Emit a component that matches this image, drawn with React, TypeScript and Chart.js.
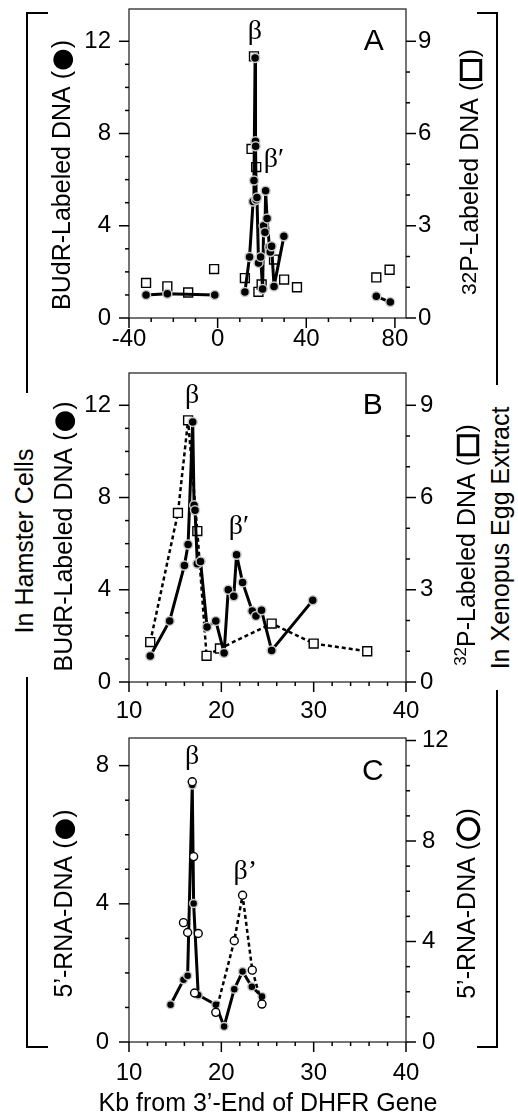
import { useEffect, useRef } from 'react';
import { Chart, registerables } from 'chart.js';

Chart.register(...registerables);

const SANS = '"Liberation Sans", Arial, Helvetica, sans-serif';
const SERIF = '"Liberation Serif", "Times New Roman", Times, serif';
const SYMBOL = '"DejaVu Sans", "Liberation Sans", sans-serif';

// ---------------- data (kb from 3'-end of DHFR gene) ----------------
// BUdR-labeled DNA in hamster cells (filled circles), beta / beta' region
const budrKb = [12.3, 14.4, 16.0, 16.4, 16.9, 17.05, 17.15, 17.4, 17.75, 18.45, 19.4, 20.3, 20.75, 21.35, 21.65, 22.3, 23.35, 23.75, 24.35, 25.45, 29.9];
const budrVal = [1.13, 2.65, 5.05, 5.96, 11.28, 7.66, 7.45, 5.13, 5.23, 2.39, 2.65, 1.26, 4.0, 3.72, 5.52, 4.32, 3.08, 2.86, 3.11, 1.37, 3.54];
// BUdR flanking fragments (panel A only)
const budrUpKb = [-32.3, -22.7, -1.3];
const budrUpVal = [1.0, 1.05, 1.0];
const budrDownKb = [71.6, 77.9];
const budrDownVal = [0.94, 0.69];
// 32P-labeled DNA in Xenopus egg extract (open squares)
const p32Kb = [12.3, 15.3, 16.4, 17.4, 18.4, 19.85, 25.45, 30.0, 35.8];
const p32Val = [1.3, 5.5, 8.51, 4.91, 0.85, 1.09, 1.9, 1.25, 1.0];
const p32FlankKb = [-32.3, -22.7, -13.3, -1.6, 71.6, 77.6];
const p32FlankVal = [1.14, 1.03, 0.83, 1.59, 1.32, 1.57];
// 5'-RNA-DNA (panel C)
const rnaFilledKb = [14.5, 15.9, 16.35, 16.85, 17.0, 17.5, 19.4, 20.3, 21.4, 22.3, 23.3, 24.4];
const rnaFilledVal = [1.08, 1.8, 1.92, 7.44, 4.01, 1.36, 1.08, 0.45, 1.53, 2.04, 1.6, 1.32];
const rnaOpenKb = [15.9, 16.35, 16.85, 17.0, 17.1, 17.5, 19.4, 21.4, 22.3, 23.35, 24.4];
const rnaOpenVal = [4.75, 4.36, 10.36, 7.38, 1.95, 4.32, 1.18, 4.03, 5.84, 2.86, 1.51];
const rnaOpenDashFrom = 19.4;

// ---------------- tick labels ----------------
const xTicksA = [-40, 0, 40, 80];
const xTicksBC = [10, 20, 30, 40];
const yTicksAB = [0, 4, 8, 12];
const y2TicksAB = [0, 3, 6, 9];
const yTicksC = [0, 4, 8];
const y2TicksC = [0, 4, 8, 12];

// ---------------- helpers ----------------
const pts = (xs: number[], ys: number[]) => xs.map((x, i) => ({ x, y: ys[i] }));

const filledLine = {
  borderColor: '#000',
  borderWidth: 3,
  borderJoinStyle: 'round',
  pointStyle: 'circle',
  pointRadius: 4.5,
  pointBackgroundColor: '#000',
  pointBorderColor: '#c8c8c8',
  pointBorderWidth: 1.5,
  tension: 0,
  yAxisID: 'y',
};
const squareLine = {
  borderColor: '#000',
  borderWidth: 2.5,
  borderDash: [4, 3],
  borderJoinStyle: 'round',
  pointStyle: 'rect',
  pointRadius: 6.3,
  pointBackgroundColor: '#fff',
  pointBorderColor: '#000',
  pointBorderWidth: 1.4,
  tension: 0,
  yAxisID: 'y2',
};

type Run = { t: string; size?: number; rise?: number; center?: boolean; family?: string; stroke?: number };
type TitleSpec = { runs: Run[]; x: number; y: number; rotate: boolean };
type LabelSpec = { text: string; x: number; y: number; font: string };
type TickSpec = { id: string; from: number; to: number; minor: number; major: number; dir: 'left' | 'right' | 'bottom' };

const framePlugin = {
  id: 'frameTicks',
  beforeDatasetsDraw(chart: any, _a: any, o: any) {
    const { ctx, chartArea: a } = chart;
    ctx.save();
    ctx.strokeStyle = '#2a2a2a';
    ctx.lineWidth = 1.3;
    ctx.strokeRect(a.left, a.top, a.right - a.left, a.bottom - a.top);
    ctx.strokeStyle = '#000';
    ctx.lineWidth = 1.5;
    for (const t of (o.ticks || []) as TickSpec[]) {
      const s = chart.scales[t.id];
      const n = Math.round((t.to - t.from) / t.minor);
      for (let i = 0; i <= n; i++) {
        const v = t.from + i * t.minor;
        const r = v / t.major;
        const len = Math.abs(r - Math.round(r)) < 1e-6 ? 10 : 4;
        const p = s.getPixelForValue(v);
        ctx.beginPath();
        if (t.dir === 'left') { ctx.moveTo(a.left, p); ctx.lineTo(a.left - len, p); }
        else if (t.dir === 'right') { ctx.moveTo(a.right, p); ctx.lineTo(a.right + len, p); }
        else { ctx.moveTo(p, a.bottom); ctx.lineTo(p, a.bottom + len); }
        ctx.stroke();
      }
    }
    ctx.restore();
  },
};

const TITLE_SIZE = 25;

const textPlugin = {
  id: 'panelText',
  afterDatasetsDraw(chart: any, _a: any, o: any) {
    const { ctx } = chart;
    ctx.save();
    ctx.fillStyle = '#000';
    ctx.textAlign = 'center';
    ctx.textBaseline = 'middle';
    for (const l of (o.labels || []) as LabelSpec[]) {
      ctx.font = l.font;
      const px = chart.scales.x.getPixelForValue(l.x);
      const py = chart.scales.y.getPixelForValue(l.y);
      ctx.fillText(l.text, px, py);
    }
    ctx.restore();
  },
  afterDraw(chart: any, _a: any, o: any) {
    const { ctx } = chart;
    const base = TITLE_SIZE;
    const fontOf = (r: Run) => `${r.size ?? base}px ${r.family ?? SANS}`;
    for (const tt of (o.titles || []) as TitleSpec[]) {
      ctx.save();
      ctx.fillStyle = '#000';
      ctx.strokeStyle = '#000';
      ctx.textAlign = 'left';
      ctx.textBaseline = 'alphabetic';
      const widths = tt.runs.map((r) => {
        ctx.font = fontOf(r);
        return ctx.measureText(r.t).width;
      });
      const total = widths.reduce((s, w) => s + w, 0);
      ctx.font = `${base}px ${SANS}`;
      const pm = ctx.measureText('(');
      const parenMid = (pm.actualBoundingBoxAscent - pm.actualBoundingBoxDescent) / 2;
      ctx.translate(tt.x, tt.y);
      if (tt.rotate) ctx.rotate(-Math.PI / 2);
      let cx = -total / 2;
      tt.runs.forEach((r, i) => {
        ctx.font = fontOf(r);
        let dy = -(r.rise ?? 0);
        if (r.center) {
          const m = ctx.measureText(r.t);
          const mid = (m.actualBoundingBoxAscent - m.actualBoundingBoxDescent) / 2;
          dy = mid - parenMid;
        }
        ctx.fillText(r.t, cx, dy);
        if (r.stroke) {
          ctx.lineWidth = r.stroke;
          ctx.strokeText(r.t, cx, dy);
        }
        cx += widths[i];
      });
      ctx.restore();
    }
  },
};

type PanelSpec = {
  canvasTop: number;
  height: number;
  areaTop: number;
  areaBottom: number;
  xMin: number;
  xMax: number;
  yMax: number;
  y2Max: number;
  xTicks: number[];
  yTicks: number[];
  y2Ticks: number[];
  padX: number;
  padY: number;
  padY2: number;
  tickMarks: TickSpec[];
  labels: LabelSpec[];
  titles: TitleSpec[];
  datasets: any[];
};

const AREA_LEFT = 129;
const AREA_RIGHT = 406;
const FIG_W = 518;
const TICK_FONT = { family: SANS, size: 24 };

function makeConfig(p: PanelSpec): any {
  const tickOpts = (pad: number) => ({ color: '#000', font: TICK_FONT, padding: pad, maxRotation: 0, autoSkip: false });
  return {
    type: 'line',
    data: { datasets: p.datasets },
    options: {
      animation: false,
      responsive: false,
      events: [],
      layout: { padding: { top: p.areaTop, left: 0, right: 0, bottom: 0 } },
      plugins: {
        legend: { display: false },
        tooltip: { enabled: false },
        frameTicks: { ticks: p.tickMarks },
        panelText: { labels: p.labels, titles: p.titles },
      },
      scales: {
        x: {
          type: 'linear',
          position: 'bottom',
          min: p.xMin,
          max: p.xMax,
          grid: { display: false, drawTicks: false },
          border: { display: false },
          ticks: { ...tickOpts(p.padX), includeBounds: false },
          afterBuildTicks: (s: any) => { s.ticks = p.xTicks.map((v) => ({ value: v })); },
          afterFit: (s: any) => { s.height = p.height - p.areaBottom; s.paddingLeft = 0; s.paddingRight = 0; },
        },
        y: {
          type: 'linear',
          position: 'left',
          min: 0,
          max: p.yMax,
          grid: { display: false, drawTicks: false },
          border: { display: false },
          ticks: { ...tickOpts(p.padY), includeBounds: false },
          afterBuildTicks: (s: any) => { s.ticks = p.yTicks.map((v) => ({ value: v })); },
          afterFit: (s: any) => { s.width = AREA_LEFT; s.paddingTop = 0; s.paddingBottom = 0; },
        },
        y2: {
          type: 'linear',
          position: 'right',
          min: 0,
          max: p.y2Max,
          grid: { display: false, drawTicks: false },
          border: { display: false },
          ticks: { ...tickOpts(p.padY2), includeBounds: false },
          afterBuildTicks: (s: any) => { s.ticks = p.y2Ticks.map((v) => ({ value: v })); },
          afterFit: (s: any) => { s.width = FIG_W - AREA_RIGHT; s.paddingTop = 0; s.paddingBottom = 0; },
        },
      },
    },
    plugins: [framePlugin, textPlugin],
  };
}

const BETA_FONT = `28px ${SERIF}`;
const LETTER_FONT = `30px ${SANS}`;

const dotSym: Run = { t: '\u25CF', size: 26, center: true, family: SYMBOL };
const squareSym: Run = { t: '\u25A1', size: 27, center: true, family: SYMBOL, stroke: 1.5 };
const ringSym: Run = { t: '\u25CB', size: 29, center: true, family: SYMBOL, stroke: 1.5 };

const panelA: PanelSpec = {
  canvasTop: 0,
  height: 360,
  areaTop: 9,
  areaBottom: 318,
  xMin: -40,
  xMax: 85,
  yMax: 13.4,
  y2Max: 10.05,
  xTicks: xTicksA,
  yTicks: yTicksAB,
  y2Ticks: y2TicksAB,
  padX: 7,
  padY: 18,
  padY2: 12,
  tickMarks: [
    { id: 'x', from: -40, to: 80, minor: 10, major: 40, dir: 'bottom' },
    { id: 'y', from: 0, to: 12, minor: 1, major: 4, dir: 'left' },
    { id: 'y2', from: 0, to: 9, minor: 1, major: 3, dir: 'right' },
  ],
  labels: [
    { text: '\u03B2', x: 16.8, y: 12.43, font: BETA_FONT },
    { text: '\u03B2\u2032', x: 25.4, y: 6.85, font: BETA_FONT },
    { text: 'A', x: 70.5, y: 12.0, font: LETTER_FONT },
  ],
  titles: [
    { runs: [{ t: 'BUdR-Labeled DNA (' }, dotSym, { t: ')' }], x: 70, y: 175, rotate: true },
    { runs: [{ t: '32', size: 21, rise: 2 }, { t: 'P-Labeled DNA (' }, squareSym, { t: ')' }], x: 478, y: 172, rotate: true },
  ],
  datasets: [
    { ...filledLine, data: pts(budrKb, budrVal) },
    { ...filledLine, data: pts(budrUpKb, budrUpVal) },
    { ...filledLine, data: pts(budrDownKb, budrDownVal) },
    { ...squareLine, showLine: false, data: pts(p32Kb, p32Val) },
    { ...squareLine, showLine: false, data: pts(p32FlankKb, p32FlankVal) },
  ],
};

const panelB: PanelSpec = {
  canvasTop: 360,
  height: 365,
  areaTop: 13,
  areaBottom: 322,
  xMin: 10,
  xMax: 40,
  yMax: 13.4,
  y2Max: 10.05,
  xTicks: xTicksBC,
  yTicks: yTicksAB,
  y2Ticks: y2TicksAB,
  padX: 15,
  padY: 18,
  padY2: 14,
  tickMarks: [
    { id: 'x', from: 10, to: 40, minor: 2, major: 10, dir: 'bottom' },
    { id: 'y', from: 0, to: 12, minor: 1, major: 4, dir: 'left' },
    { id: 'y2', from: 0, to: 9, minor: 1, major: 3, dir: 'right' },
  ],
  labels: [
    { text: '\u03B2', x: 16.83, y: 12.43, font: BETA_FONT },
    { text: '\u03B2\u2032', x: 21.9, y: 6.72, font: BETA_FONT },
    { text: 'B', x: 36.4, y: 12.0, font: LETTER_FONT },
  ],
  titles: [
    { runs: [{ t: 'BUdR-Labeled DNA (' }, dotSym, { t: ')' }], x: 72, y: 176.5, rotate: true },
    { runs: [{ t: '32', size: 17, rise: 9 }, { t: 'P-Labeled DNA (' }, squareSym, { t: ')' }], x: 475, y: 185, rotate: true },
  ],
  datasets: [
    { ...filledLine, data: pts(budrKb, budrVal) },
    { ...squareLine, data: pts(p32Kb, p32Val) },
  ],
};

const panelC: PanelSpec = {
  canvasTop: 725,
  height: 388,
  areaTop: 13,
  areaBottom: 317,
  xMin: 10,
  xMax: 40,
  yMax: 8.8,
  y2Max: 12.1,
  xTicks: xTicksBC,
  yTicks: yTicksC,
  y2Ticks: y2TicksC,
  padX: 17,
  padY: 20,
  padY2: 16,
  tickMarks: [
    { id: 'x', from: 10, to: 40, minor: 2, major: 10, dir: 'bottom' },
    { id: 'y', from: 0, to: 8, minor: 1, major: 4, dir: 'left' },
    { id: 'y2', from: 0, to: 12, minor: 1, major: 4, dir: 'right' },
  ],
  labels: [
    { text: '\u03B2', x: 16.83, y: 8.25, font: BETA_FONT },
    { text: '\u03B2\u2019', x: 22.6, y: 4.93, font: BETA_FONT },
    { text: 'C', x: 36.4, y: 7.82, font: LETTER_FONT },
  ],
  titles: [
    { runs: [{ t: '5\u2019-RNA-DNA (' }, dotSym, { t: ')' }], x: 72, y: 178.5, rotate: true },
    { runs: [{ t: '5\u2019-RNA-DNA (' }, ringSym, { t: ')' }], x: 475, y: 178.5, rotate: true },
    { runs: [{ t: 'Kb from 3\u2019-End of DHFR Gene' }], x: 268, y: 386, rotate: false },
  ],
  datasets: [
    {
      ...filledLine,
      yAxisID: 'y2',
      borderWidth: 2.5,
      borderDash: [4, 3],
      pointRadius: 4,
      pointBackgroundColor: '#fff',
      pointBorderColor: '#000',
      pointBorderWidth: 1.4,
      segment: {
        borderColor: (c: any) => (c.p0.parsed.x >= rnaOpenDashFrom ? '#000' : 'rgba(0,0,0,0)'),
      },
      data: pts(rnaOpenKb, rnaOpenVal),
    },
    { ...filledLine, pointRadius: 4, data: pts(rnaFilledKb, rnaFilledVal) },
  ],
};

function Panel({ spec }: { spec: PanelSpec }) {
  const ref = useRef<HTMLCanvasElement>(null);
  useEffect(() => {
    const chart = new Chart(ref.current as HTMLCanvasElement, makeConfig(spec));
    return () => chart.destroy();
  }, [spec]);
  return (
    <canvas
      ref={ref}
      width={FIG_W}
      height={spec.height}
      style={{ position: 'absolute', left: 0, top: spec.canvasTop, width: FIG_W, height: spec.height }}
    />
  );
}

export default function App() {
  useEffect(() => {
    document.body.style.margin = '0';
  }, []);
  return (
    <div style={{ position: 'absolute', left: 0, top: 0, width: FIG_W, height: 1113, background: '#fff', overflow: 'hidden' }}>
      <svg width={FIG_W} height={1113} style={{ position: 'absolute', left: 0, top: 0 }}>
        <g stroke="#000" strokeWidth={2} fill="none">
          <polyline points="48,13 27,13 27,393" />
          <polyline points="27,677 27,1047 48,1047" />
          <polyline points="477,13 497,13 497,385" />
          <polyline points="497,690 497,1047 477,1047" />
        </g>
        <text transform="translate(33,541) rotate(-90)" textAnchor="middle" fontFamily={SANS} fontSize={TITLE_SIZE} fill="#000">
          In Hamster Cells
        </text>
        <text transform="translate(509,538) rotate(-90)" textAnchor="middle" fontFamily={SANS} fontSize={TITLE_SIZE} fill="#000">
          In Xenopus Egg Extract
        </text>
      </svg>
      <Panel spec={panelA} />
      <Panel spec={panelB} />
      <Panel spec={panelC} />
    </div>
  );
}
